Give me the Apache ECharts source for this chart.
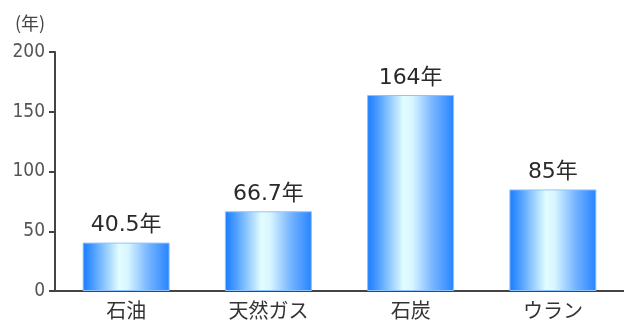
<!DOCTYPE html>
<html>
<head>
<meta charset="utf-8">
<script src="https://cdn.jsdelivr.net/npm/echarts@6/dist/echarts.min.js"></script>
<style>
html, body { margin: 0; padding: 0; background: #fff; }
#main { width: 624px; height: 320px; }
</style>
</head>
<body>
<div id="main"></div>
<script>
var categories = ['石油', '天然ガス', '石炭', 'ウラン'];
var years = [40.5, 66.7, 164, 85];
var valueLabels = ['40.5年', '66.7年', '164年', '85年'];
var yTicks = [0, 50, 100, 150, 200];

var chart = echarts.init(document.getElementById('main'));

// bar fill: blue edges, pale cyan band a little left of centre
var barFill = new echarts.graphic.LinearGradient(0, 0, 1, 0, [
	{ offset: 0, color: '#1a7cff' },
	{ offset: 0.12, color: '#4a9cff' },
	{ offset: 0.42, color: '#e2fdff' },
	{ offset: 0.52, color: '#d8f6ff' },
	{ offset: 0.75, color: '#78b6ff' },
	{ offset: 1, color: '#2683ff' }
]);

var option = {
	animation: false,
	grid: {
		left: 55,
		right: -12,
		top: 52,
		bottom: 27
	},
	graphic: [{
		type: 'text',
		left: 15,
		top: 14,
		style: {
			text: '(年)',
			fill: '#444',
			font: '18px "Noto Sans CJK JP"'
		}
	}],
	xAxis: {
		type: 'category',
		data: categories,
		axisLine: { lineStyle: { color: '#444', width: 2 } },
		axisTick: { show: false },
		axisLabel: {
			color: '#333',
			fontSize: 20,
			fontFamily: 'Noto Sans CJK JP',
			margin: 9
		}
	},
	yAxis: {
		type: 'value',
		min: 0,
		max: 200,
		interval: 50,
		axisLine: { show: true, lineStyle: { color: '#444', width: 2 } },
		axisTick: { show: true, length: 6, lineStyle: { color: '#444', width: 2 } },
		splitLine: { show: false },
		axisLabel: {
			color: '#555',
			fontSize: 19,
			fontFamily: 'DejaVu Sans Condensed, Liberation Sans Narrow, sans-serif',
			margin: 10,
			formatter: function (v) {
				return yTicks.indexOf(v) >= 0 ? String(v) : '';
			}
		}
	},
	series: [{
		type: 'bar',
		data: years,
		barWidth: 87,
		itemStyle: {
			color: barFill,
			borderColor: '#8fc4ff',
			borderWidth: 1
		},
		label: {
			show: true,
			position: 'top',
			distance: 6,
			color: '#2a2a2a',
			fontSize: 22,
			fontFamily: 'DejaVu Sans, Noto Sans CJK JP',
			formatter: function (p) {
				return valueLabels[p.dataIndex];
			}
		}
	}]
};

chart.setOption(option);
</script>
</body>
</html>
